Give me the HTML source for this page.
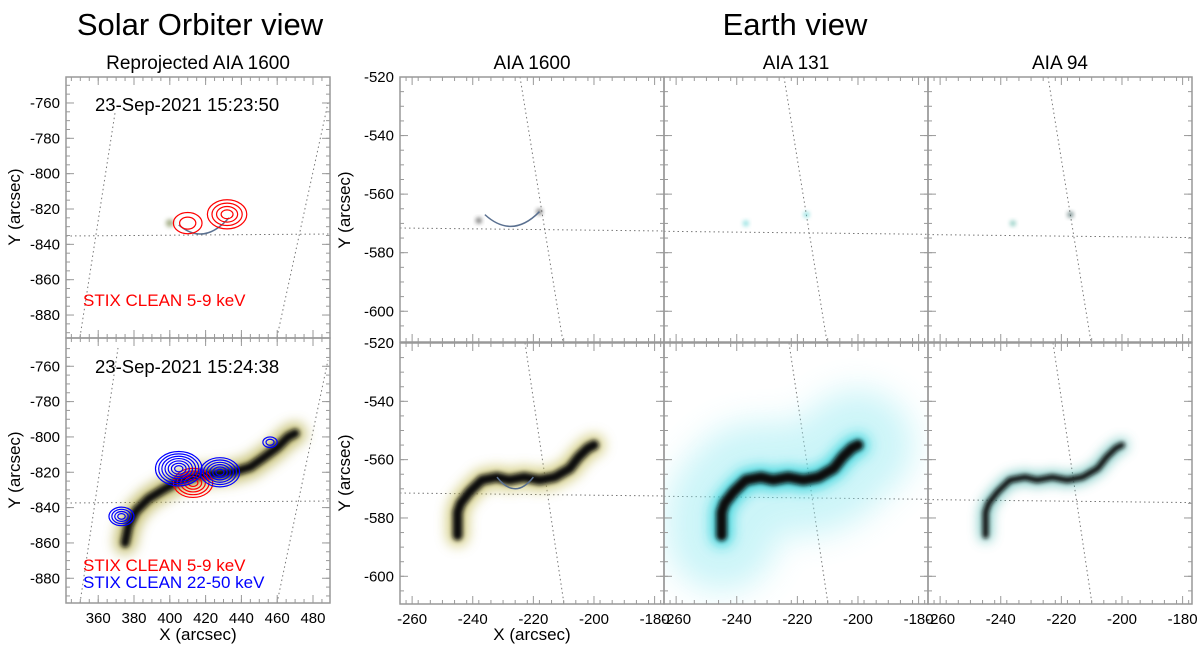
<!DOCTYPE html>
<html><head><meta charset="utf-8">
<style>
body{margin:0;background:#fff;}
svg{display:block;font-family:"Liberation Sans",Arial,sans-serif;}
</style></head>
<body>
<svg id="fig" width="1200" height="646" viewBox="0 0 1200 646">
<defs>
<filter id="b1" x="-50%" y="-100%" width="200%" height="300%"><feGaussianBlur stdDeviation="6"/></filter>
<filter id="b2" x="-50%" y="-50%" width="200%" height="200%"><feGaussianBlur stdDeviation="2"/></filter>
<filter id="b3" x="-100%" y="-200%" width="300%" height="500%"><feGaussianBlur stdDeviation="16"/></filter>
</defs>
<text x="200" y="35" font-size="31" text-anchor="middle">Solar Orbiter view</text>
<text x="795" y="35" font-size="31" text-anchor="middle">Earth view</text>
<text x="198" y="69" font-size="19" text-anchor="middle">Reprojected AIA 1600</text>
<text x="532" y="69" font-size="19" text-anchor="middle">AIA 1600</text>
<text x="796" y="69" font-size="19" text-anchor="middle">AIA 131</text>
<text x="1060" y="69" font-size="19" text-anchor="middle">AIA 94</text>
<g id="root"></g>
</svg>
<script>
// ---- data ----
const soYTicks = [-760,-780,-800,-820,-840,-860,-880];
const soXTicks = [360,380,400,420,440,460,480];
const evYTicks = [-520,-540,-560,-580,-600];
const evXTicks = [-260,-240,-220,-200,-180];
// Solar Orbiter ribbon (arcsec)
const soRibbonX = [375,377,381,388,396,405,415,425,435,445,452,460,466,470];
const soRibbonY = [-860,-850,-842,-835,-830,-825,-822,-821,-820,-817,-812,-806,-800,-798];
// Earth view ribbon (arcsec)
const evRibbonX = [-245,-245,-244,-241,-237,-232,-228,-223,-218,-213,-208,-205,-202,-200];
const evRibbonY = [-586,-578,-575,-571,-567,-566,-567,-566,-567,-566,-563,-559,-556,-555];
// STIX contours: centres (arcsec), outer radius, number of levels
const redTopX = [410,432], redTopY = [-828,-823], redTopR = [8,11], redTopN = [2,4];
const redBotX = [413], redBotY = [-826], redBotR = [11], redBotN = [5];
const blueX = [405,428,373,456], blueY = [-818,-820,-845,-803], blueR = [13,11,7,4], blueN = [7,6,4,2];

const NS='http://www.w3.org/2000/svg';
const root=document.getElementById('root');
const defs=document.querySelector('defs');
let clipN=0;
function el(tag,attrs,parent){const e=document.createElementNS(NS,tag);for(const k in attrs)e.setAttribute(k,attrs[k]);(parent||root).appendChild(e);return e;}

function makePanel(name,x0,y0,w,h,xmin,xmax,ymin,ymax){
  const g=el('g',{});
  
  
  const id='clip'+(clipN++);
  const cp=el('clipPath',{id:id},defs);
  el('rect',{x:x0,y:y0,width:w,height:h},cp);
  const inner=el('g',{'clip-path':'url(#'+id+')'},g);
  const sx=v=>x0+(v-xmin)/(xmax-xmin)*w;
  const sy=v=>y0+(ymax-v)/(ymax-ymin)*h;
  return {g,inner,sx,sy,x0,y0,w,h};
}
function frame(p,xt,yt,xminor,yminor,showXLab,showYLab){
  const f=el('rect',{x:p.x0,y:p.y0,width:p.w,height:p.h,fill:'none',stroke:'#999','stroke-width':1.5},p.g);
  
  
  for(const v of xminor){const x=p.sx(v);if(x<p.x0||x>p.x0+p.w)continue;
    el('line',{x1:x,x2:x,y1:p.y0,y2:p.y0+4,stroke:'#999'},p.g);
    el('line',{x1:x,x2:x,y1:p.y0+p.h,y2:p.y0+p.h-4,stroke:'#999'},p.g);}
  for(const v of yminor){const y=p.sy(v);if(y<p.y0||y>p.y0+p.h)continue;
    el('line',{x1:p.x0,x2:p.x0+4,y1:y,y2:y,stroke:'#999'},p.g);
    el('line',{x1:p.x0+p.w,x2:p.x0+p.w-4,y1:y,y2:y,stroke:'#999'},p.g);}
  for(const v of xt){const x=p.sx(v);
    el('line',{x1:x,x2:x,y1:p.y0,y2:p.y0+8,stroke:'#999'},p.g);
    el('line',{x1:x,x2:x,y1:p.y0+p.h,y2:p.y0+p.h-8,stroke:'#999'},p.g);
    if(showXLab){const t=el('text',{x:x,y:p.y0+p.h+20,'font-size':15,'text-anchor':'middle'},p.g);t.textContent=v;
      
      }}
  for(const v of yt){const y=p.sy(v);
    el('line',{x1:p.x0,x2:p.x0+8,y1:y,y2:y,stroke:'#999'},p.g);
    el('line',{x1:p.x0+p.w,x2:p.x0+p.w-8,y1:y,y2:y,stroke:'#999'},p.g);
    if(showYLab){const t=el('text',{x:p.x0-6,y:y+5,'font-size':15,'text-anchor':'end'},p.g);t.textContent=v;
      
      }}
}
function range(a,b,s){const r=[];for(let v=a;s>0?v<=b:v>=b;v+=s)r.push(v);return r;}
function dotted(p,pts){el('polyline',{points:pts.map(q=>q.join(',')).join(' '),fill:'none',stroke:'#777','stroke-width':1,'stroke-dasharray':'1.5,3'},p.inner);}
function ribbon(p,xs,ys,color,hw,cw,blurId,op){
  const pts=xs.map((x,i)=>p.sx(x)+','+p.sy(ys[i])).join(' ');
  const h=el('polyline',{points:pts,fill:'none',stroke:color,'stroke-width':hw,'stroke-linecap':'round','stroke-linejoin':'round',filter:'url(#'+blurId+')',opacity:op},p.inner);
  
  
  if(cw>0){
  const c=el('polyline',{points:pts,fill:'none',stroke:'#111','stroke-width':cw,'stroke-linecap':'round','stroke-linejoin':'round',filter:'url(#b2)'},p.inner);
  
  }
}
function contours(p,xs,ys,rs,ns,color){
  xs.forEach((x,i)=>{
    for(let k=0;k<ns[i];k++){
      const r=rs[i]*(1-k/(ns[i]+0.3));
      const e=el('ellipse',{cx:p.sx(x),cy:p.sy(ys[i]),rx:(p.sx(x+r)-p.sx(x)),ry:(p.sy(ys[i]-r*0.75)-p.sy(ys[i])),fill:'none',stroke:color,'stroke-width':1.2},p.inner);
      
      
    }
  });
}
function arc(p,x1,y1,x2,y2,dip){
  const a=[p.sx(x1),p.sy(y1)],b=[p.sx(x2),p.sy(y2)];
  const e=el('path',{d:`M${a[0]},${a[1]} Q${(a[0]+b[0])/2},${p.sy((y1+y2)/2-dip)} ${b[0]},${b[1]}`,fill:'none',stroke:'#5a7090','stroke-width':1.5},p.inner);
  
  
}
function spot(p,x,y,r,color,op){const e=el('circle',{cx:p.sx(x),cy:p.sy(y),r:r,fill:color,opacity:op,filter:'url(#b2)'},p.inner);
  
  }
function label(p,x,y,txt,color,size,name){const t=el('text',{x:x,y:y,'font-size':size,fill:color},p.g);t.textContent=txt;
  
  }

// ---- Solar Orbiter panels ----
const soXmin=342,soXmax=489.5;
const p1=makePanel('so-top-panel',66,77,264,261,soXmin,soXmax,-893,-745.3);
dotted(p1,[[66,236],[330,234]]);dotted(p1,[[80,337],[115,113]]);dotted(p1,[[277,337],[328,103]]);
spot(p1,400,-828,4,'#6b7a3a',0.6);
arc(p1,405,-829,433,-825,14);
contours(p1,redTopX,redTopY,redTopR,redTopN,'#f00');
frame(p1,soXTicks,soYTicks,range(345,489,5),range(-750,-890,-5),false,true);
label(p1,95,111,'23-Sep-2021 15:23:50','#000',18.5,'timestamp-top');
label(p1,83,306,'STIX CLEAN 5-9 keV','#f00',17,'legend-stix-5-9kev-top');

const p2=makePanel('so-bottom-panel',66,338,264,265,soXmin,soXmax,-894,-744);
dotted(p2,[[66,503],[330,501]]);dotted(p2,[[80,603],[118,348]]);dotted(p2,[[277,603],[328,360]]);
ribbon(p2,soRibbonX,soRibbonY,'#b8b050',22,9,'b1',0.8);
contours(p2,redBotX,redBotY,redBotR,redBotN,'#f00');
contours(p2,blueX,blueY,blueR,blueN,'#00f');
frame(p2,soXTicks,soYTicks,range(345,489,5),range(-750,-890,-5),true,true);
label(p2,95,373,'23-Sep-2021 15:24:38','#000',18.5,'timestamp-bottom');
label(p2,83,571,'STIX CLEAN 5-9 keV','#f00',17,'legend-stix-5-9kev');
label(p2,83,588,'STIX CLEAN 22-50 keV','#00f',17,'legend-stix-22-50kev');

// ---- Earth view panels ----
const evXmin=-264,evXmax=-176.9;
const evNames=['aia1600','aia131','aia94'];
evNames.forEach((nm,i)=>{
  const x0=400+264*i;
  const top=makePanel('ev-top-'+nm,x0,77,264,265,evXmin,evXmax,-610.5,-520);
  dotted(top,[[x0,228+3.3*i],[x0+264,231+3.3*i]]);dotted(top,[[x0+120,77],[x0+163,342]]);
  if(i===0){spot(top,-238,-569,3,'#333',0.7);spot(top,-218,-566,3,'#333',0.7);arc(top,-236,-567,-218,-566,9);}
  if(i===1){spot(top,-237,-570,3,'#4cc',0.6);spot(top,-217,-567,3,'#4cc',0.6);}
  if(i===2){spot(top,-236,-570,3,'#4a9',0.6);spot(top,-217,-567,3,'#355',0.7);}
  frame(top,evXTicks,evYTicks,range(-262,-178,4),range(-525,-605,-5),false,i===0);
  const bot=makePanel('ev-bottom-'+nm,x0,343,264,261,evXmin,evXmax,-609.5,-520);
  dotted(bot,[[x0,493+3.3*i],[x0+264,496+3.3*i]]);dotted(bot,[[x0+125,343],[x0+164,604]]);
  if(i===0){ribbon(bot,evRibbonX,evRibbonY,'#c8c060',22,10,'b1',0.75);arc(bot,-232,-566,-220,-566,8);}
  if(i===1){ribbon(bot,evRibbonX,evRibbonY,'#8ee8f0',110,0,'b3',0.45);ribbon(bot,evRibbonX,evRibbonY,'#20d0d8',22,11,'b1',0.8);}
  if(i===2){ribbon(bot,evRibbonX,evRibbonY,'#50b8b0',12,6,'b1',0.8);}
  frame(bot,evXTicks,evYTicks,range(-262,-178,4),range(-525,-605,-5),true,i===0);
});

// axis titles
function axTitle(x,y,txt,rot,name){const t=el('text',{x:x,y:y,'font-size':17,'text-anchor':'middle',transform:rot?`rotate(-90 ${x} ${y})`:''});t.textContent=txt;
  
  }
axTitle(20,207,'Y (arcsec)',true,'so-top-y-axis-title');
axTitle(20,470,'Y (arcsec)',true,'so-bottom-y-axis-title');
axTitle(350,210,'Y (arcsec)',true,'ev-top-y-axis-title');
axTitle(350,473,'Y (arcsec)',true,'ev-bottom-y-axis-title');
axTitle(198,640,'X (arcsec)',false,'so-x-axis-title');
axTitle(532,640,'X (arcsec)',false,'ev-x-axis-title');
</script>
</body></html>
